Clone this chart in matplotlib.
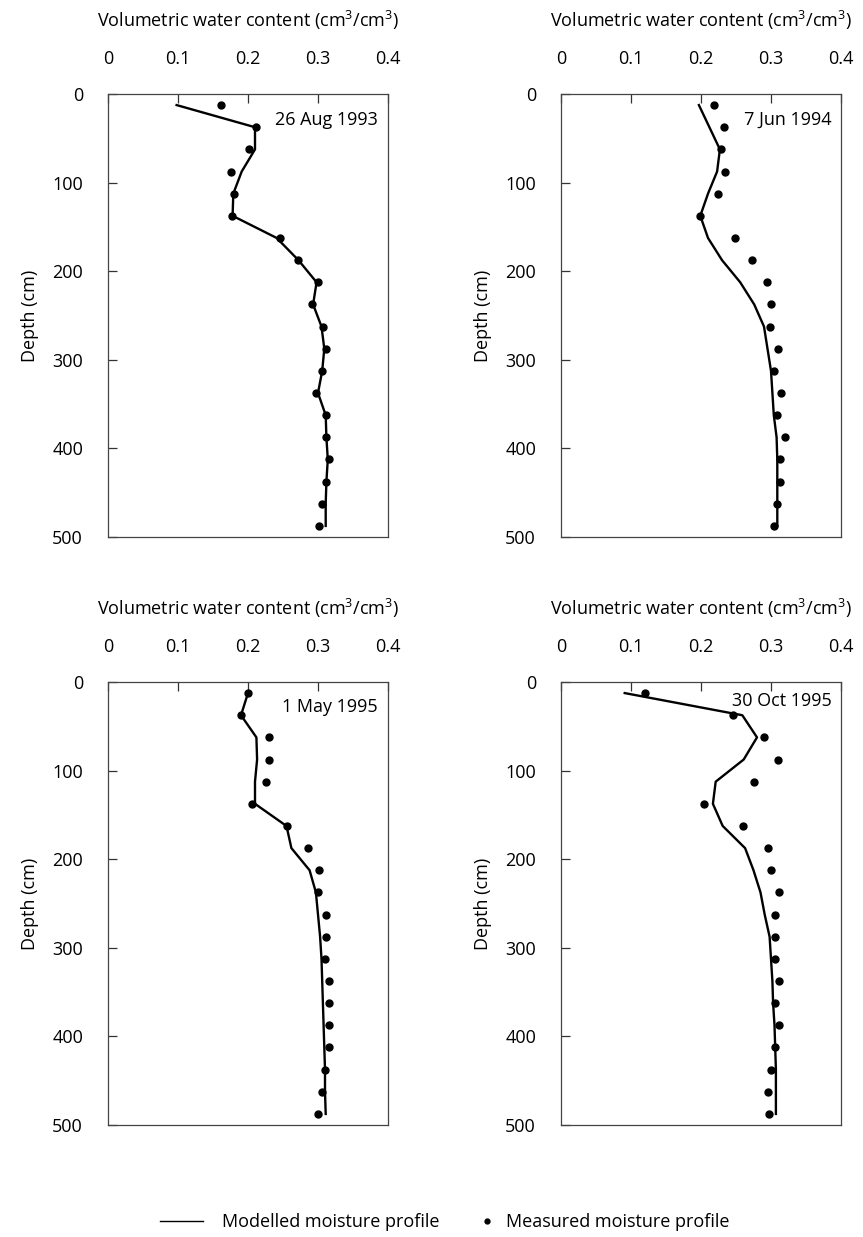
import matplotlib

matplotlib.use("Agg")

import matplotlib.pyplot as plt
from matplotlib.lines import Line2D

plt.rcParams["font.family"] = ["Open Sans", "DejaVu Sans"]
plt.rcParams["mathtext.fontset"] = "custom"
plt.rcParams["mathtext.rm"] = "Open Sans"
FS = 13

# measurement depths (cm)
depth = [12.5, 37.5, 62.5, 87.5, 112.5, 137.5, 162.5, 187.5, 212.5, 237.5,
         262.5, 287.5, 312.5, 337.5, 362.5, 387.5, 412.5, 437.5, 462.5, 487.5]

dates = ["26 Aug 1993", "7 Jun 1994", "1 May 1995", "30 Oct 1995"]

meas_aug93 = [0.161, 0.211, 0.201, 0.176, 0.180, 0.177, 0.246, 0.272, 0.300, 0.291,
              0.307, 0.311, 0.306, 0.297, 0.311, 0.311, 0.316, 0.311, 0.306, 0.301]
model_aug93 = [0.098, 0.210, 0.210, 0.191, 0.179, 0.178, 0.241, 0.272, 0.298, 0.293,
               0.305, 0.309, 0.306, 0.300, 0.311, 0.312, 0.314, 0.312, 0.311, 0.311]

meas_jun94 = [0.219, 0.233, 0.228, 0.234, 0.224, 0.199, 0.249, 0.273, 0.294, 0.300,
              0.299, 0.310, 0.304, 0.314, 0.309, 0.320, 0.313, 0.313, 0.309, 0.304]
model_jun94 = [0.197, 0.212, 0.227, 0.223, 0.210, 0.199, 0.210, 0.230, 0.256, 0.276,
               0.290, 0.295, 0.300, 0.302, 0.304, 0.308, 0.309, 0.309, 0.309, 0.309]

meas_may95 = [0.200, 0.190, 0.230, 0.230, 0.225, 0.205, 0.256, 0.285, 0.301, 0.300,
              0.311, 0.311, 0.310, 0.316, 0.316, 0.315, 0.315, 0.310, 0.305, 0.300]
model_may95 = [0.200, 0.190, 0.212, 0.213, 0.210, 0.210, 0.255, 0.262, 0.288, 0.297,
               0.300, 0.303, 0.305, 0.306, 0.307, 0.308, 0.309, 0.310, 0.310, 0.311]

meas_oct95 = [0.120, 0.245, 0.290, 0.310, 0.275, 0.204, 0.260, 0.296, 0.300, 0.311,
              0.305, 0.305, 0.305, 0.311, 0.305, 0.311, 0.305, 0.300, 0.296, 0.297]
model_oct95 = [0.091, 0.259, 0.280, 0.261, 0.221, 0.217, 0.231, 0.263, 0.275, 0.285,
               0.291, 0.298, 0.300, 0.302, 0.303, 0.305, 0.306, 0.307, 0.307, 0.307]

measured = [meas_aug93, meas_jun94, meas_may95, meas_oct95]
modelled = [model_aug93, model_jun94, model_may95, model_oct95]

W, H = 863, 1237
fig = plt.figure(figsize=(W / 100, H / 100), dpi=100)

# axes boxes in pixels: left, top, right, bottom
boxes = [(108, 94, 388, 537), (561, 94, 841, 537),
         (108, 682, 388, 1125), (561, 682, 841, 1125)]
date_pos = [(0.964, 0.941), (0.967, 0.941), (0.964, 0.944), (0.967, 0.958)]

for i, (l, t, r, b) in enumerate(boxes):
    ax = fig.add_axes([l / W, (H - b) / H, (r - l) / W, (b - t) / H])
    ax.plot(modelled[i], depth, color="black", lw=1.7, zorder=3)
    ax.plot(measured[i], depth, "o", color="black", ms=5, mec="black", zorder=4)
    ax.set_xlim(0, 0.4)
    ax.set_ylim(500, 0)
    ax.set_xticks([0, 0.1, 0.2, 0.3, 0.4])
    ax.set_xticklabels(["0", "0.1", "0.2", "0.3", "0.4"])
    ax.set_yticks([0, 100, 200, 300, 400, 500])
    ax.xaxis.tick_top()
    ax.xaxis.set_label_position("top")
    ax.tick_params(axis="x", direction="in", length=6.5, width=0.9, pad=19,
                   labelsize=FS, color="#333333")
    ax.tick_params(axis="y", direction="in", length=6.5, width=0.9, pad=18,
                   labelsize=FS, color="#333333")
    for sp in ax.spines.values():
        sp.set_color("#444444")
        sp.set_linewidth(0.9)
    ax.set_xlabel("Volumetric water content (cm$^{3}$/cm$^{3}$)", fontsize=FS)
    ax.xaxis.set_label_coords(0.5, 1 + (94 - 20) / 443)
    ax.xaxis.label.set_va("center")
    ax.set_ylabel("Depth (cm)", fontsize=FS)
    ax.yaxis.set_label_coords(-(108 - 30) / 280, 0.5)
    ax.yaxis.label.set_va("center")
    dx, dy = date_pos[i]
    ax.text(dx, dy, dates[i], transform=ax.transAxes, ha="right", va="center",
            fontsize=FS)

line_handle = Line2D([], [], color="black", lw=1.0)
dot_handle = Line2D([], [], color="black", marker="o", ls="none", ms=3.5)

fig.legend(handles=[line_handle], labels=["Modelled moisture profile"],
           loc="center left", bbox_to_anchor=(160 / W, 15 / H), frameon=False,
           fontsize=FS, handlelength=2.4, handletextpad=1.05, borderpad=0,
           borderaxespad=0)
fig.legend(handles=[dot_handle], labels=["Measured moisture profile"],
           loc="center left", bbox_to_anchor=(478 / W, 15 / H), frameon=False,
           fontsize=FS, handlelength=1.0, handletextpad=0.55, borderpad=0,
           borderaxespad=0, numpoints=1)

fig.savefig("out.png", dpi=100)
